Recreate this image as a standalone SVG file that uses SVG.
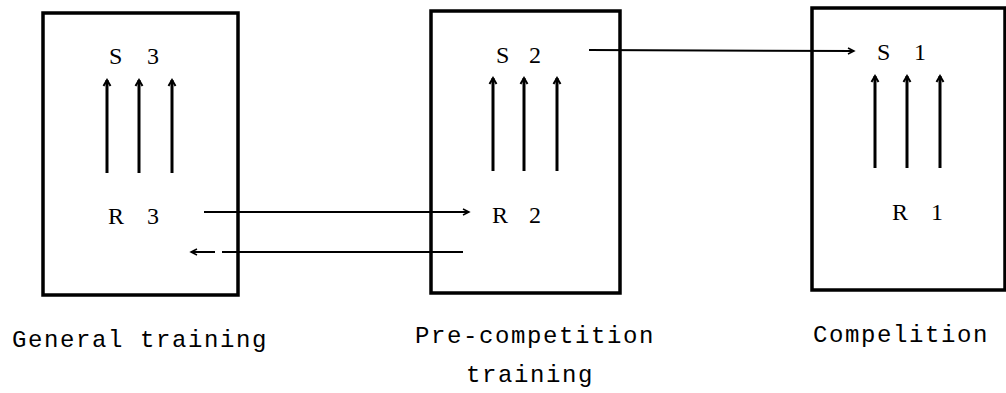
<svg xmlns="http://www.w3.org/2000/svg" width="1006" height="393" viewBox="0 0 1006 393">
<defs>
<style>
.box{fill:none;stroke:#000;stroke-width:3.5}
.ln{fill:none;stroke:#000;stroke-width:2}
.up{fill:none;stroke:#000;stroke-width:3}
.lbl{font-family:"Liberation Serif",serif;font-size:24px;fill:#000}
.cap{font-family:"Liberation Mono",monospace;font-size:24px;fill:#000;letter-spacing:1.6px}
</style>
<marker id="ah" markerWidth="10" markerHeight="10" refX="8" refY="5" orient="auto" markerUnits="userSpaceOnUse">
<path d="M2,2 L8,5 L2,8" fill="none" stroke="#000" stroke-width="1.5"/>
</marker>
<marker id="ahu" markerWidth="12" markerHeight="12" refX="9" refY="6" orient="auto" markerUnits="userSpaceOnUse">
<path d="M3,2.5 L9,6 L3,9.5" fill="none" stroke="#000" stroke-width="2"/>
</marker>
</defs>
<rect width="1006" height="393" fill="#fff"/>
<g id="general">
<rect class="box" x="43" y="13" width="195" height="282"/>
<text class="lbl" x="109 129 147" y="64">S 3</text>
<text class="lbl" x="108 128 147" y="224">R 3</text>
<line class="up" x1="107" y1="173" x2="107" y2="80" marker-end="url(#ahu)"/>
<line class="up" x1="139" y1="173" x2="139" y2="80" marker-end="url(#ahu)"/>
<line class="up" x1="172" y1="173" x2="172" y2="80" marker-end="url(#ahu)"/>
<text class="cap" x="12" y="347">General training</text>
</g>
<g id="precompetition">
<rect class="box" x="431" y="11" width="189" height="282"/>
<text class="lbl" x="496 514 529" y="63">S 2</text>
<text class="lbl" x="492 512 529" y="223">R 2</text>
<line class="up" x1="493" y1="171" x2="493" y2="78" marker-end="url(#ahu)"/>
<line class="up" x1="524" y1="171" x2="524" y2="78" marker-end="url(#ahu)"/>
<line class="up" x1="557" y1="171" x2="557" y2="78" marker-end="url(#ahu)"/>
<text class="cap" x="415" y="343">Pre-competition</text>
<text class="cap" x="466" y="382">training</text>
</g>
<g id="competition">
<rect class="box" x="812" y="8" width="193" height="282"/>
<text class="lbl" x="877 896 914" y="60">S 1</text>
<text class="lbl" x="892 912 931" y="220">R 1</text>
<line class="up" x1="875" y1="168" x2="875" y2="76" marker-end="url(#ahu)"/>
<line class="up" x1="907" y1="168" x2="907" y2="76" marker-end="url(#ahu)"/>
<line class="up" x1="940" y1="168" x2="940" y2="76" marker-end="url(#ahu)"/>
<text class="cap" x="813" y="342">Compelition</text>
</g>
<g id="connectors">
<line class="ln" x1="204" y1="212" x2="469" y2="212" marker-end="url(#ah)"/>
<line class="ln" x1="463" y1="252" x2="222" y2="252"/>
<line class="ln" x1="215" y1="252" x2="191" y2="252" marker-end="url(#ah)"/>
<line class="ln" x1="589" y1="50" x2="854" y2="51" marker-end="url(#ah)"/>
</g>
</svg>
